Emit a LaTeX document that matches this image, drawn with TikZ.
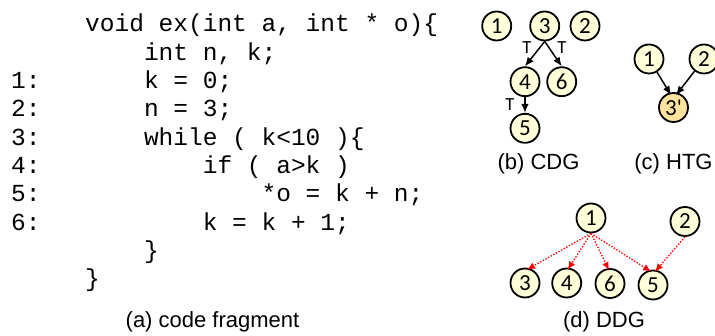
\documentclass[tikz,border=0pt]{standalone}
\usepackage{fontspec}
\setmainfont{Liberation Sans}
\newfontfamily\codefont{Liberation Mono}
\newfontfamily\nodefont{Carlito}
\usetikzlibrary{arrows.meta}
\definecolor{nodefill}{RGB}{255,255,218}
\definecolor{htgfill}{RGB}{255,226,158}
\definecolor{ddgred}{RGB}{255,0,0}
\tikzset{
  codeline/.style={anchor=base west,inner sep=0pt,font=\codefont\fontsize{24.5}{28}\selectfont},
  gnode/.style={circle,draw=black,line width=1.8pt,fill=nodefill,minimum size=29pt,inner sep=0pt,font=\nodefont\fontsize{23}{25}\selectfont},
  caption/.style={anchor=base,inner sep=0pt,font=\fontsize{22}{24}\selectfont},
  tlabel/.style={inner sep=0pt,font=\nodefont\fontsize{18.5}{20}\selectfont},
  cdgedge/.style={line width=1.5pt,-{Latex[length=9pt,width=7.5pt]}},
  ddgedge/.style={draw=ddgred,line width=1.3pt,dash pattern=on 1.4pt off 1.6pt,-{Latex[length=8pt,width=7pt]},color=ddgred}
}
\begin{document}
\begin{tikzpicture}[x=1pt,y=-1pt]
\useasboundingbox (0,0) rectangle (715,336);
\clip (0,0) rectangle (715,336);
\fill[white] (0,0) rectangle (715,336);
% code
\def\cw{14.7}
\node[codeline] (c0) at (85,32) {void ex(int a, int * o)\{};
\node[codeline] (c1) at (85+4*\cw,60.3) {int n, k;};
\node[codeline] (c2) at (85+4*\cw,88.6) {k = 0;};
\node[codeline] (c3) at (85+4*\cw,116.9) {n = 3;};
\node[codeline] (c4) at (85+4*\cw,145.2) {while ( k<10 )\{};
\node[codeline] (c5) at (85+8*\cw,173.5) {if ( a>k )};
\node[codeline] (c6) at (85+12*\cw,201.8) {*o = k + n;};
\node[codeline] (c7) at (85+8*\cw,230.1) {k = k + 1;};
\node[codeline] (c8) at (85+4*\cw,258.4) {\}};
\node[codeline] (c9) at (85,286.7) {\}};
\node[codeline] (n1) at (11,88.6) {1:};
\node[codeline] (n2) at (11,116.9) {2:};
\node[codeline] (n3) at (11,145.2) {3:};
\node[codeline] (n4) at (11,173.5) {4:};
\node[codeline] (n5) at (11,201.8) {5:};
\node[codeline] (n6) at (11,230.1) {6:};
\node[caption] (capa) at (212.5,328) {(a) code fragment};
% CDG
\node[gnode] (b1) at (496.7,26) {1};
\node[gnode] (b3) at (544.7,26) {3};
\node[gnode] (b2) at (585,26) {2};
\node[gnode] (b4) at (525,81.7) {4};
\node[gnode] (b6) at (561.7,81.7) {6};
\node[gnode] (b5) at (525,128.3) {5};
\draw[cdgedge] (b3.south) -- (b4.north);
\draw[cdgedge] (b3.south) -- (b6.north);
\draw[cdgedge] (b4.south) -- (b5.north);
\node[tlabel] (t1) at (527,47.5) {T};
\node[tlabel] (t2) at (562,47.5) {T};
\node[tlabel] (t3) at (510,105) {T};
\node[caption] (capb) at (538.5,170) {(b) CDG};
% HTG
\node[gnode] (h1) at (649,59) {1};
\node[gnode] (h2) at (704,59) {2};
\node[gnode,fill=htgfill] (h3) at (673.5,107.5) {3'};
\draw[cdgedge] (h1) -- ([xshift=-2.5pt,yshift=-3pt]h3.north);
\draw[cdgedge] (h2) -- ([xshift=2.5pt,yshift=-3pt]h3.north);
\node[caption] (capc) at (673.5,170) {(c) HTG};
% DDG
\node[gnode] (d1) at (591,218) {1};
\node[gnode] (d2) at (685,221.5) {2};
\node[gnode] (d3) at (525,283) {3};
\node[gnode] (d4) at (566.7,283) {4};
\node[gnode] (d6) at (610,283.5) {6};
\node[gnode] (d5) at (653,285) {5};
\draw[ddgedge] (d1.south) -- ([xshift=2pt,yshift=-2pt]d3.north);
\draw[ddgedge] (d1.south) -- ([xshift=1pt,yshift=-2pt]d4.north);
\draw[ddgedge] (d1.south) -- ([xshift=-1pt,yshift=-2pt]d6.north);
\draw[ddgedge] (d1.south) -- ([xshift=-2pt,yshift=-2pt]d5.north);
\draw[ddgedge] (d2.south) -- ([xshift=2pt,yshift=-2pt]d5.north);
\node[caption] (capd) at (604,328) {(d) DDG};
\end{tikzpicture}
\end{document}
